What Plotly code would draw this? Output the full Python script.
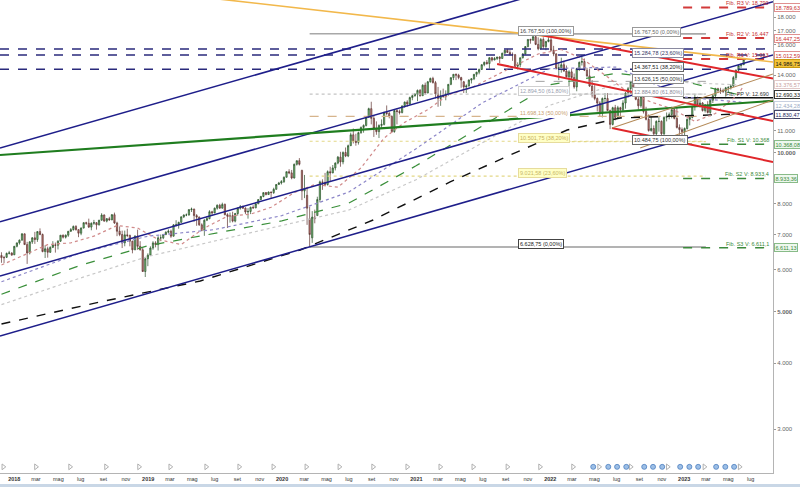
import math
import pandas as pd
import plotly.graph_objects as go

# ------------------------------------------------------------------ data
FIRST_WEEK = "2017-11-27"

OPEN = [
    6390, 6330, 6340, 6450, 6460,
    6410, 6650, 6750, 6830, 7020, 6700, 6460, 6780, 6900, 6850, 7090, 7000, 6500, 6580, 6480, 6620, 6690, 6680,
    6800, 6980, 6920, 6980, 7100, 7150, 7250, 7150, 7040, 7200, 7370, 7350, 7230, 7350, 7370, 7300, 7450, 7620,
    7420, 7500, 7460, 7630, 7360, 7100, 7000, 6750, 6990, 6970, 6800, 6550, 6950, 6650, 6550, 5960, 6300,
    6400, 6600, 6750, 6700, 6900, 6900, 7000, 7070, 7100, 6950, 7300, 7300, 7380, 7560, 7620, 7620, 7800, 7820,
    7600, 7550, 7300, 7130, 7450, 7500, 7730, 7690, 7850, 7950, 7850, 7980, 7630, 7580, 7600, 7420, 7670, 7850,
    7900, 7850, 7720, 7740, 7880, 7860, 8000, 8150, 8260, 8400, 8330, 8420, 8400, 8520, 8700, 8760,
    8810, 8980, 9200, 9150, 8950, 9500, 9650, 9250, 8460, 8300, 7500, 6900, 7550, 7600, 8150, 8800, 8780, 8700,
    9200, 9150, 9350, 9550, 9800, 9600, 10000, 9850, 10300, 10800, 10500, 10450, 10900, 11150, 11250, 11650,
    12100, 11600, 11100, 10950, 11250, 11300, 11900, 11850, 11700, 10950, 12000, 11950, 11900, 12250, 12450,
    12350, 12700, 12800,
    12880, 13100, 12800, 13400, 12950, 13600, 13800, 13550, 12900, 12650, 12800, 12750, 12900, 13450, 13850,
    14050, 14000, 13850, 13600, 13300, 13350, 13700, 13780, 14050, 14180, 14350, 14650, 14800, 14720, 15100,
    14950, 15050, 15150, 15050, 15400, 15600, 15450, 15300, 15300, 14550, 14650, 15100, 15350, 15850, 16350,
    16300, 16550, 16000, 15700, 16350, 15850, 16200,
    16320, 15600, 15350, 14400, 14450, 14650, 14250, 13900, 14200, 13850, 13300, 14400, 14800, 14850, 14300,
    13950, 13350, 12850, 12650, 12400, 11850, 12650, 12650, 12000, 11300, 12150, 11650, 12150, 12050, 12400,
    12950, 13200, 13600, 13200, 12600, 12250, 12750, 11950, 11550, 11000, 11100, 10850, 11450, 11450, 10850,
    11650, 11700, 11800, 12050, 11600, 11150, 11050,
    10950, 11100, 11550, 11650, 12200, 12650, 12300, 12400, 12000, 12300, 11900, 12550, 12800, 13200, 13100,
    13100, 13050, 13250, 13250, 13350, 13850, 14300, 14600, 14650,
]
HIGH = [
    6480, 6380, 6470, 6520, 6480,
    6660, 6760, 6850, 7040, 7030, 6780, 6800, 6920, 7080, 7100, 7190, 7030, 6680, 6640, 6650, 6800, 6760, 6830,
    6980, 7000, 7000, 7100, 7200, 7280, 7290, 7160, 7220, 7380, 7400, 7500, 7380, 7460, 7390, 7460, 7680, 7640,
    7520, 7560, 7650, 7700, 7400, 7250, 7120, 7120, 7180, 7000, 6810, 6980, 7150, 6800, 6620, 6330, 6450,
    6650, 6800, 6800, 6950, 7000, 7020, 7100, 7160, 7150, 7320, 7450, 7400, 7570, 7640, 7670, 7820, 7870, 7830,
    7650, 7570, 7350, 7480, 7580, 7780, 7760, 7870, 7980, 8000, 8040, 8010, 7680, 7700, 7730, 7690, 7870, 7960,
    7940, 7880, 7850, 7900, 7950, 8030, 8160, 8280, 8400, 8420, 8440, 8440, 8580, 8720, 8800, 8870,
    9010, 9200, 9300, 9270, 9530, 9660, 9760, 9280, 9070, 8600, 7900, 7750, 7800, 8250, 8850, 8900, 9150, 9250,
    9400, 9470, 9580, 9850, 10030, 10050, 10220, 10350, 10900, 11100, 10850, 10950, 11200, 11300, 11700, 12150,
    12470, 11750, 11450, 11300, 11550, 11950, 12270, 11950, 11750, 12050, 12100, 12050, 12250, 12480, 12550,
    12750, 12850, 12950,
    13150, 13180, 13450, 13550, 13650, 13850, 13900, 13650, 13300, 13100, 13200, 13100, 13450, 13850, 14050,
    14100, 14080, 13900, 13650, 13450, 13750, 13800, 14050, 14200, 14400, 14670, 14850, 14950, 15130, 15150,
    15150, 15150, 15200, 15430, 15620, 15700, 15600, 15450, 15350, 14800, 15100, 15400, 15880, 16370, 16400,
    16600, 16768, 16500, 16450, 16500, 16250, 16600,
    16650, 15900, 15400, 14800, 15100, 14900, 14600, 14300, 14400, 14100, 14450, 14850, 15270, 15050, 14450,
    14400, 13700, 13400, 12700, 12500, 12700, 12950, 12950, 12050, 12200, 12300, 12250, 12200, 12550, 13000,
    13300, 13650, 13750, 13300, 12750, 12800, 12950, 12200, 11800, 11700, 11250, 11500, 11700, 11500, 11700,
    11900, 11900, 12200, 12100, 12150, 11300, 11150,
    11150, 11600, 11700, 12250, 12900, 12750, 12650, 12450, 12350, 12500, 12600, 12900, 13250, 13250, 13250,
    13200, 13300, 13350, 13450, 13950, 14350, 14650, 14750, 15050,
]
LOW = [
    6190, 6180, 6320, 6420, 6390,
    6400, 6620, 6700, 6820, 6690, 6160, 6420, 6720, 6720, 6780, 6980, 6480, 6320, 6330, 6460, 6600, 6470, 6560,
    6780, 6880, 6880, 6930, 7080, 7120, 7120, 6920, 6980, 7190, 7300, 7200, 7130, 7300, 7150, 7280, 7440, 7400,
    7380, 7430, 7450, 7330, 6950, 6950, 6600, 6650, 6920, 6650, 6450, 6540, 6550, 6530, 5950, 5820, 6100,
    6390, 6550, 6620, 6530, 6800, 6860, 6980, 7030, 6900, 6940, 7250, 7180, 7370, 7520, 7580, 7600, 7720, 7400,
    7270, 7270, 7100, 6960, 7420, 7480, 7600, 7680, 7800, 7830, 7840, 7610, 7200, 7370, 7380, 7380, 7600, 7800,
    7830, 7650, 7500, 7650, 7830, 7850, 7990, 8130, 8230, 8300, 8320, 8200, 8350, 8510, 8690, 8700,
    8760, 8970, 9100, 8900, 8930, 9450, 9450, 8130, 8200, 7300, 6629, 6750, 7350, 7600, 8050, 8500, 8650, 8660,
    8800, 9140, 9250, 9500, 9400, 9500, 9800, 9800, 10300, 10400, 10300, 10350, 10850, 10900, 11200, 11650,
    11300, 10700, 10800, 10650, 11100, 11250, 11750, 11600, 10900, 10900, 11300, 11800, 11850, 12150, 12200,
    12300, 12550, 12750,
    12500, 12750, 12800, 12850, 12950, 13550, 13500, 12650, 12200, 12250, 12700, 12550, 12800, 13400, 13700,
    13700, 13750, 13250, 12950, 12950, 13330, 13500, 13700, 13900, 14050, 14320, 14550, 14650, 14400, 14850,
    14940, 14950, 14750, 15040, 15380, 15420, 15250, 14900, 14500, 14350, 14500, 15050, 15300, 15800, 16050,
    16250, 15950, 15600, 15650, 15700, 15600, 16150,
    15550, 15200, 14350, 13700, 14150, 14200, 13850, 13050, 13750, 13200, 13050, 14250, 14600, 14250, 13900,
    13300, 12700, 12550, 11950, 11700, 11650, 12400, 11990, 11070, 11250, 11500, 11600, 11600, 11950, 12100,
    12700, 12900, 13150, 12550, 12050, 12150, 11850, 11500, 10950, 10950, 10485, 10700, 10950, 10650, 10700,
    11450, 11550, 11600, 11550, 11100, 10800, 10700,
    10700, 11050, 11250, 11600, 12000, 12250, 12150, 11950, 11900, 11850, 11700, 12400, 12650, 12950, 12900,
    12950, 12750, 12950, 13150, 13300, 13700, 14200, 14450, 14640,
]
CLOSE = [
    6330, 6330, 6450, 6460, 6400,
    6650, 6750, 6830, 7020, 6700, 6460, 6780, 6900, 6850, 7090, 7000, 6500, 6580, 6480, 6620, 6690, 6680, 6800,
    6980, 6920, 6980, 7100, 7150, 7250, 7150, 7040, 7200, 7370, 7350, 7230, 7350, 7370, 7300, 7450, 7620, 7420,
    7500, 7460, 7630, 7360, 7100, 7000, 6750, 6990, 6970, 6800, 6550, 6950, 6650, 6550, 5960, 6300, 6400,
    6600, 6750, 6700, 6900, 6900, 7000, 7070, 7100, 6950, 7300, 7300, 7380, 7560, 7620, 7620, 7800, 7820, 7600,
    7550, 7300, 7130, 7450, 7500, 7730, 7690, 7850, 7950, 7850, 7980, 7630, 7580, 7600, 7420, 7670, 7850, 7900,
    7850, 7720, 7740, 7880, 7860, 8000, 8150, 8260, 8400, 8330, 8420, 8400, 8520, 8700, 8760, 8810,
    8980, 9200, 9150, 8950, 9500, 9650, 9500, 8460, 8550, 7850, 7000, 7550, 7500, 8150, 8800, 8780, 8700, 9200,
    9150, 9350, 9550, 9800, 9600, 10000, 9850, 10300, 10800, 10500, 10450, 10900, 11150, 11250, 11650, 12100,
    11600, 11100, 10950, 11250, 11300, 11900, 11850, 11700, 10950, 12000, 11950, 11900, 12250, 12450, 12350,
    12700, 12800, 12880,
    13100, 12800, 13400, 12950, 13600, 13800, 13550, 12900, 12650, 12800, 12750, 12900, 13450, 13850, 14050,
    14000, 13850, 13700, 13300, 13350, 13700, 13780, 14050, 14180, 14350, 14650, 14800, 14720, 15100, 14950,
    15050, 15150, 15050, 15400, 15600, 15450, 15300, 15300, 14550, 14650, 15100, 15350, 15850, 16350, 16300,
    16550, 16000, 15700, 16350, 15850, 16200, 16320,
    15600, 15350, 14400, 14450, 14650, 14250, 13900, 14200, 13850, 13300, 14400, 14800, 14850, 14300, 13950,
    13350, 12850, 12650, 12400, 11850, 12650, 12650, 12000, 11300, 12150, 11650, 12150, 12050, 12400, 12950,
    13200, 13600, 13200, 12600, 12250, 12750, 11950, 11550, 11000, 11100, 10850, 11450, 11450, 10850, 11650,
    11700, 11800, 12050, 11600, 11150, 11050, 10950,
    11100, 11550, 11650, 12200, 12650, 12300, 12400, 12000, 12300, 11900, 12550, 12800, 13200, 13100, 13100,
    13050, 13250, 13250, 13350, 13850, 14300, 14600, 14650, 14986.75,
]

# moving averages (read at sparse points)
MA_FAST_DATES = ["2017-11-27", "2018-01-29", "2018-04-02", "2018-06-04", "2018-08-06", "2018-10-08",
                 "2018-12-03", "2019-01-28", "2019-04-01", "2019-06-03", "2019-08-05", "2019-10-07",
                 "2019-12-02", "2020-02-03", "2020-03-30", "2020-06-01", "2020-08-03", "2020-10-05",
                 "2020-11-30", "2021-02-01", "2021-03-29", "2021-05-31", "2021-08-02", "2021-10-04",
                 "2021-11-29", "2022-01-31", "2022-03-28", "2022-05-30", "2022-08-01", "2022-10-03",
                 "2022-11-28", "2023-01-30", "2023-03-27", "2023-05-29", "2023-06-12"]
MA_FAST = [6130, 6400, 6700, 6750, 6950, 7280, 7200, 6850, 6700, 7200, 7580, 7650, 7880, 8400, 8700,
           8600, 9350, 10650, 11400, 12050, 12850, 13250, 13950, 14700, 15350, 15650, 15050, 14000,
           13000, 12450, 12100, 11450, 11850, 12900, 13377]

HALF_DATES = ["2017-11-27", "2018-06-30", "2018-12-31", "2019-06-30", "2019-12-31", "2020-06-30",
              "2020-12-31", "2021-06-30", "2021-12-31", "2022-06-30", "2022-12-31", "2023-06-12"]
MA_50W = [5700, 6460, 6950, 7150, 7600, 8415, 10165, 12415, 14400, 14500, 12725, 12434]
MA_75W = [5400, 6123, 6667, 7040, 7427, 8017, 9437, 11227, 13427, 14117, 13633, 12783]
MA_100W = [5160, 5793, 6363, 6805, 7275, 7783, 8883, 10415, 12283, 13458, 13563, 13400]

MA_200W_DATES = ["2017-11-27", "2018-08-23", "2019-05-23", "2020-02-19", "2020-09-05", "2021-04-03",
                 "2021-09-14", "2022-02-16", "2022-07-10", "2023-02-13", "2023-06-12"]
MA_200W = [4744, 5221, 5719, 6545, 7456, 8798, 9892, 11027, 11620, 11771, 11830]

# trendlines (two anchor points each)
CHANNEL_DATES = ["2017-11-23", "2023-08-31"]
CHANNEL_A = [10197, 26670]
CHANNEL_B = [7402, 19260]
CHANNEL_C = [5846, 15287]
CHANNEL_D = [4502, 11853]
GREEN_TREND = [9892, 12517]
ORANGE_TREND = [21711, 14825]
RED1_DATES = ["2021-11-29", "2023-08-31"]
RED1 = [16700, 13790]
RED2_DATES = ["2021-08-09", "2023-08-31"]
RED2 = [14696, 11467]
RED3_DATES = ["2022-06-18", "2023-08-31"]
RED3 = [11125, 9596]
TAN1_DATES = ["2022-06-18", "2023-08-31"]
TAN1 = [11125, 14071]
TAN2_DATES = ["2022-09-03", "2023-08-31"]
TAN2 = [10197, 12566]

# horizontal levels
RESISTANCE = [15690, 15284.78, 14367.51]
FIB_PCT = [0, 23.6, 38.2, 50, 61.8, 100]
FIB_LEFT = [6628.75, 9021.58, 10501.75, 11698.13, 12894.50, 16767.50]
FIB_LEFT_SPAN = ["2020-03-16", "2023-03-01"]
FIB_LEFT_LABEL_AT = "2021-10-05"
FIB_RIGHT = [16767.50, 15284.78, 14367.51, 13626.15, 12884.80, 10484.75]
FIB_RIGHT_PCT = [0, 23.6, 38.2, 50, 61.8, 100]
FIB_RIGHT_SPAN = ["2021-11-22", "2023-03-01"]
FIB_RIGHT_LABEL_AT = "2022-08-12"

PIVOT_NAMES = ["R3", "R2", "R1", "PP", "S1", "S2", "S3"]
PIVOTS = [18789.63, 16447.25, 15012.59, 12690.33, 10368.08, 8933.36, 6611.13]
PIVOT_SPAN = ["2022-12-29", "2023-08-31"]

LAST_PRICE = 14986.75
MA_TAGS = [13376.57, 12434.28, 11830.47]

Y_TICKS = [3000, 4000, 5000, 6000, 7000, 8000, 10000, 11000, 14000, 16000, 17000, 18000]
MONTHS_IT = ["gen", "feb", "mar", "apr", "mag", "giu", "lug", "ago", "set", "ott", "nov", "dic"]

EVENTS_GRAY = ["2017-12-02", "2018-03-01", "2018-06-02", "2018-09-08", "2018-12-07", "2019-03-02",
               "2019-06-08", "2019-09-06", "2019-12-08", "2020-03-07", "2020-06-05", "2020-09-05",
               "2020-12-07", "2021-03-07", "2021-06-05", "2021-09-06", "2021-12-04", "2022-03-04",
               "2022-05-14", "2022-08-08", "2022-11-17", "2023-02-25", "2023-06-01"]
EVENTS_BLUE = ["2022-04-28", "2022-06-08", "2022-07-02", "2022-07-27", "2022-09-14", "2022-10-08",
               "2022-11-02", "2022-12-21", "2023-01-15", "2023-02-08", "2023-03-29", "2023-04-23",
               "2023-05-17"]

# ------------------------------------------------------------------ helpers
FONT = "Arial"
X_RANGE = ["2017-11-23", "2023-08-31"]
Y_RANGE = [3.39471, 4.28800]


def it_num(v, dec=2):
    s = f"{v:,.{dec}f}"
    return s.replace(",", "_").replace(".", ",").replace("_", ".")


def pct(p):
    return f"{p:.2f}%".replace(".", ",")


fig = go.Figure()


def line(xs, ys, color, width=1.0, dash="solid"):
    fig.add_trace(go.Scatter(x=xs, y=ys, mode="lines", hoverinfo="skip", showlegend=False,
                             line=dict(color=color, width=width, dash=dash)))


# ------------------------------------------------------------------ horizontal levels
left_styles = [("#9a9a9a", 1.5, "solid"), ("#e4d886", 1.2, "dot"), ("#e4d886", 1.2, "dot"),
               ("#d6b48c", 1.2, "dash"), ("#c4c4c4", 1.2, "dot"), ("#a8a8a8", 1.5, "solid")]
for v, (c, w, d) in zip(FIB_LEFT, left_styles):
    line(FIB_LEFT_SPAN, [v, v], c, w, d)
right_styles = [("#a8a8a8", 1.5, "solid"), None, None, ("#a0a0a0", 1.0, "dash"),
                ("#c4c4c4", 1.2, "dot"), ("#e4d886", 1.2, "dot")]
for v, st in zip(FIB_RIGHT, right_styles):
    if st:
        line(FIB_RIGHT_SPAN, [v, v], *st)
for v in RESISTANCE:
    line(X_RANGE, [v, v], "#2a2a7c", 1.5, "dash")

pivot_styles = [("#d23a3a", 2, "dash")] * 3 + [("#111111", 1.5, "solid")] + [("#3c8a3c", 1.5, "dash")] * 3
for v, st in zip(PIVOTS, pivot_styles):
    line(PIVOT_SPAN, [v, v], *st)

# ------------------------------------------------------------------ moving averages
line(MA_200W_DATES, MA_200W, "#111111", 1.4, "dash")
line(HALF_DATES, MA_100W, "#c8c8c8", 1.2, "dot")
line(HALF_DATES, MA_75W, "#3a8f3a", 1.2, "dash")
line(HALF_DATES, MA_50W, "#8c86c8", 1.2, "dot")
line(MA_FAST_DATES, MA_FAST, "#d08a8a", 1.2, "dot")

# ------------------------------------------------------------------ candles
weeks = pd.date_range(FIRST_WEEK, periods=len(CLOSE), freq="7D")
fig.add_trace(go.Candlestick(
    x=weeks, open=OPEN, high=HIGH, low=LOW, close=CLOSE,
    increasing=dict(line=dict(color="#2a4f2a", width=0.7), fillcolor="#78c478"),
    decreasing=dict(line=dict(color="#5e3330", width=0.7), fillcolor="#c07c76"),
    whiskerwidth=0, hoverinfo="skip", showlegend=False))

# ------------------------------------------------------------------ trendlines
for ys in (CHANNEL_A, CHANNEL_B, CHANNEL_C, CHANNEL_D):
    line(CHANNEL_DATES, ys, "#1e1e8a", 1.5)
line(CHANNEL_DATES, GREEN_TREND, "#1f7d1f", 2.2)
line(CHANNEL_DATES, ORANGE_TREND, "#f2b84b", 1.6)
line(RED1_DATES, RED1, "#e0262a", 2)
line(RED2_DATES, RED2, "#e0262a", 2)
line(RED3_DATES, RED3, "#e0262a", 2)
line(TAN1_DATES, TAN1, "#b48a58", 1.1)
line(TAN2_DATES, TAN2, "#b48a58", 1.1)

# ------------------------------------------------------------------ event icons
fig.add_trace(go.Scatter(x=EVENTS_GRAY, y=[0.013] * len(EVENTS_GRAY), yaxis="y2", mode="markers",
                         hoverinfo="skip", showlegend=False, cliponaxis=False,
                         marker=dict(symbol="triangle-right-open", size=5, color="#b0b0b0",
                                     line=dict(width=1))))
fig.add_trace(go.Scatter(x=EVENTS_BLUE, y=[0.013] * len(EVENTS_BLUE), yaxis="y2", mode="markers",
                         hoverinfo="skip", showlegend=False, cliponaxis=False,
                         marker=dict(symbol="circle", size=5, color="#9dbfe6",
                                     line=dict(color="#4d7fbf", width=0.8))))

# ------------------------------------------------------------------ annotations
ann = []
left_box = [("#222", "#ffffff", "#444"), ("#c8b868", "#ffffc6", "#e6dc9c"), ("#c8b060", "#ffffc6", "#e6dc9c"),
            ("#c8a070", "#ffffff", "#ffffff"), ("#9aa0b0", "#ffffff", "#d0d0d0"), ("#444", "#ffffff", "#999")]
for v, p, (tc, bg, bc) in zip(FIB_LEFT, FIB_PCT, left_box):
    ann.append(dict(x=FIB_LEFT_LABEL_AT, y=math.log10(v), xref="x", yref="y", xanchor="left",
                    yanchor="middle", yshift=3, text=f"{it_num(v)} ({pct(p)})", showarrow=False,
                    font=dict(family=FONT, size=5.5, color=tc), bgcolor=bg, bordercolor=bc,
                    borderwidth=1, borderpad=1))
right_box = [("#666", "#ffffff", "#999"), ("#3a3a6a", "#ffffff", "#8a8aa0"), ("#222", "#ffffff", "#666"),
             ("#333", "#ffffff", "#888"), ("#8a8a9a", "#ffffff", "#aaa"), ("#333", "#ffffff", "#666")]
for v, p, (tc, bg, bc) in zip(FIB_RIGHT, FIB_RIGHT_PCT, right_box):
    ann.append(dict(x=FIB_RIGHT_LABEL_AT, y=math.log10(v), xref="x", yref="y", xanchor="left",
                    yanchor="middle", yshift=2, text=f"{it_num(v)} ({pct(p)})", showarrow=False,
                    font=dict(family=FONT, size=5.5, color=tc), bgcolor=bg, bordercolor=bc,
                    borderwidth=1, borderpad=1))

pivot_text_col = ["#c83030"] * 3 + ["#333333"] + ["#3a8a3a"] * 3
for name, v, c in zip(PIVOT_NAMES, PIVOTS, pivot_text_col):
    txt = it_num(v, 0) if v >= 10000 else it_num(v, 1)
    ann.append(dict(x=1, y=math.log10(v), xref="paper", yref="y", xanchor="right", yanchor="middle",
                    xshift=-2, yshift=4, text=f"Fib. {name} V: {txt}", showarrow=False,
                    font=dict(family=FONT, size=5.5, color=c)))

# right-axis price boxes
axis_boxes = [(PIVOTS[0], "#c83030", "#ffffff", "#e09090", 0),
              (PIVOTS[1], "#c83030", "#ffffff", "#e09090", 0),
              (PIVOTS[2], "#c83030", "#ffffff", "#e09090", 4),
              (LAST_PRICE, "#111111", "#f3c43a", "#c99a10", -4),
              (MA_TAGS[0], "#c8a0a0", "#ffffff", "#e0c8c8", 1),
              (PIVOTS[3], "#111111", "#ffffff", "#333333", 3),
              (MA_TAGS[1], "#9aaac4", "#ffffff", "#c8d0e0", -3),
              (MA_TAGS[2], "#1e1e5a", "#ffffff", "#444466", -1),
              (PIVOTS[4], "#3a8a3a", "#eef8ee", "#88bb88", 0),
              (PIVOTS[5], "#3a8a3a", "#eef8ee", "#88bb88", 0),
              (PIVOTS[6], "#3a8a3a", "#eef8ee", "#88bb88", 0)]
for v, tc, bg, bc, sh in axis_boxes:
    ann.append(dict(x=1, y=math.log10(v), xref="paper", yref="y", xanchor="left", yanchor="middle",
                    xshift=1, yshift=sh, text=it_num(v), showarrow=False,
                    font=dict(family=FONT, size=5.5, color=tc), bgcolor=bg, bordercolor=bc,
                    borderwidth=1, borderpad=0.5))

# ------------------------------------------------------------------ axes
xt_vals = pd.date_range("2018-01-01", "2023-07-01", freq="2MS")
xt_text = [f"<b>{d.year}</b>" if d.month == 1 else MONTHS_IT[d.month - 1] for d in xt_vals]
yt_text = [f"<b>{it_num(v, 0)}</b>" if v in (5000, 10000) else it_num(v, 0) for v in Y_TICKS]

fig.update_layout(
    width=800, height=487, margin=dict(l=0, r=27, t=0, b=14),
    paper_bgcolor="white", plot_bgcolor="white", showlegend=False,
    font=dict(family=FONT, size=6, color="#555"),
    annotations=ann,
    shapes=[dict(type="rect", xref="paper", yref="paper", x0=0, x1=800 / 773, y0=-14 / 473,
                 y1=-11 / 473, fillcolor="#c9d7e6", line=dict(width=0), layer="above")],
    xaxis=dict(type="date", range=X_RANGE, showgrid=False, zeroline=False, showline=True,
               linecolor="#b4b4b4", linewidth=1, tickvals=list(xt_vals), ticktext=xt_text,
               tickfont=dict(family=FONT, size=5.5, color="#333"), ticks="",
               rangeslider=dict(visible=False)),
    yaxis=dict(type="log", range=Y_RANGE, side="right", showgrid=False, zeroline=False,
               showline=True, linecolor="#b4b4b4", linewidth=1, ticks="outside", ticklen=2,
               tickcolor="#999", tickvals=Y_TICKS, ticktext=yt_text,
               tickfont=dict(family=FONT, size=6, color="#666")),
    yaxis2=dict(overlaying="y", range=[0, 1], visible=False),
)

fig.write_html("out.html", config={"displayModeBar": False},
               post_script="document.body.style.margin='0';")
